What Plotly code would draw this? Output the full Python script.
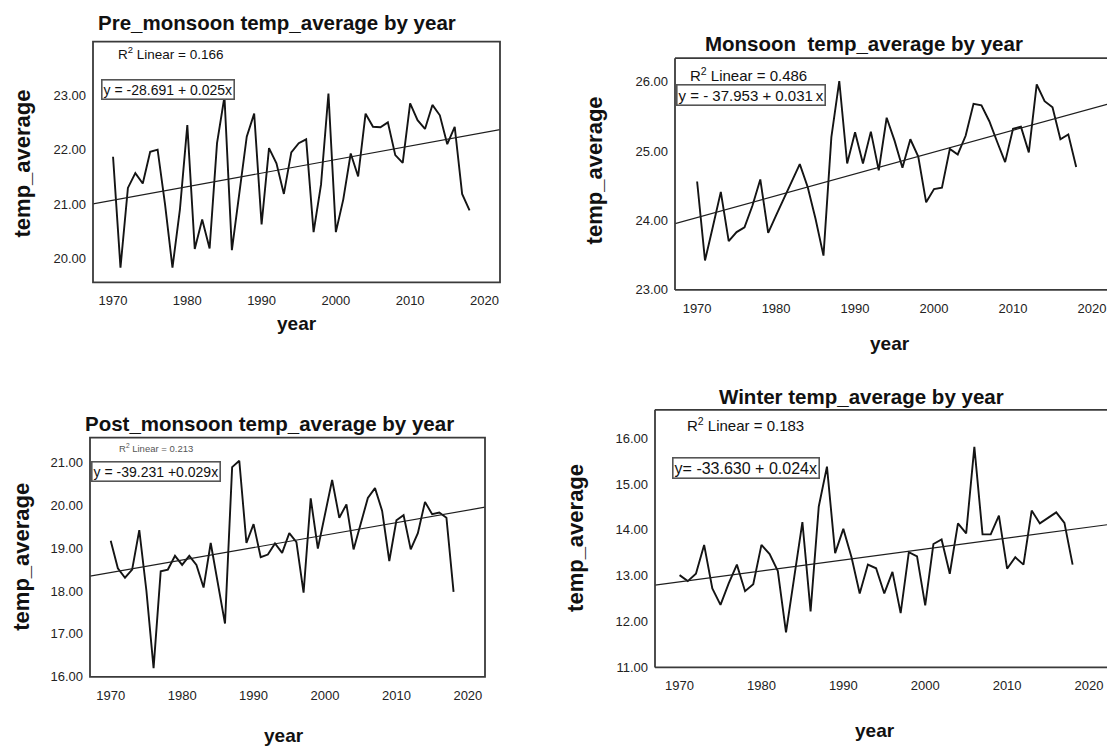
import numpy as np
import plotly.graph_objects as go

W, H = 1107, 749

years = list(range(1970, 2019))

pre_monsoon = [21.87, 19.84, 21.30, 21.57, 21.38, 21.96, 22.00, 21.00, 19.84, 20.90,
               22.45, 20.18, 20.72, 20.19, 22.12, 22.97, 20.16, 21.25, 22.24, 22.66,
               20.63, 22.03, 21.75, 21.19, 21.95, 22.12, 22.19, 20.49, 21.36, 23.03,
               20.49, 21.09, 21.93, 21.51, 22.66, 22.42, 22.41, 22.50, 21.90, 21.76,
               22.85, 22.54, 22.38, 22.82, 22.63, 22.10, 22.42, 21.19, 20.89]

monsoon = [24.56, 23.42, 23.91, 24.41, 23.70, 23.83, 23.90, 24.21, 24.59, 23.82,
           24.07, 24.32, 24.57, 24.81, 24.48, 24.02, 23.49, 25.20, 26.01, 24.82,
           25.27, 24.82, 25.28, 24.72, 25.48, 25.15, 24.76, 25.17, 24.92, 24.26,
           24.45, 24.47, 25.03, 24.95, 25.22, 25.68, 25.66, 25.43, 25.13, 24.84,
           25.32, 25.35, 24.98, 25.96, 25.72, 25.63, 25.17, 25.24, 24.77]

post_monsoon = [19.17, 18.53, 18.31, 18.50, 19.42, 18.00, 16.20, 18.46, 18.50, 18.82,
                18.61, 18.82, 18.61, 18.08, 19.12, 18.18, 17.24, 20.89, 21.04, 19.12,
                19.56, 18.79, 18.85, 19.11, 18.89, 19.35, 19.14, 17.96, 20.16, 18.99,
                19.79, 20.59, 19.71, 20.02, 18.97, 19.56, 20.17, 20.40, 19.87, 18.70,
                19.65, 19.77, 18.97, 19.35, 20.08, 19.79, 19.83, 19.71, 17.98]

winter = [13.01, 12.88, 13.04, 13.67, 12.72, 12.36, 12.83, 13.24, 12.66, 12.81,
          13.67, 13.47, 13.10, 11.76, 12.96, 14.17, 12.22, 14.51, 15.38, 13.49,
          14.02, 13.40, 12.61, 13.24, 13.16, 12.61, 13.08, 12.18, 13.51, 13.42,
          12.35, 13.69, 13.79, 13.04, 14.14, 13.92, 15.81, 13.90, 13.90, 14.31,
          13.15, 13.40, 13.24, 14.42, 14.14, 14.26, 14.38, 14.15, 13.24]

titles = ["Pre_monsoon temp_average by year",
          "Monsoon\u00a0 temp_average by year",
          "Post_monsoon temp_average by year",
          "Winter temp_average by year"]
r2_labels = ["0.166", "0.486", "0.213", "0.183"]
equations = ["y = -28.691 + 0.025x",
             "y = - 37.953 + 0.031\u2009x",
             "y = -39.231 +0.029x",
             "y= -33.630 + 0.024x"]
x_ticks = [1970, 1980, 1990, 2000, 2010, 2020]

FONT = "Liberation Sans, Arial, Helvetica, sans-serif"


def px_x(p):
    return p / W


def px_y(p):
    return 1 - p / H


# panel geometry in pixels: (left, right, top, bottom), x range, y range, y ticks
panels = [
    dict(data=pre_monsoon, box=(93, 500, 42, 285), xr=[1967.3, 2022.1],
         yr=[19.57, 23.98], yt=[20, 21, 22, 23], closed=True),
    dict(data=monsoon, box=(675, 1107, 58.7, 292.7), xr=[1967.2, 2021.9],
         yr=[22.995, 26.34], yt=[23, 24, 25, 26], closed=False),
    dict(data=post_monsoon, box=(90, 485, 441.7, 683.3), xr=[1967.1, 2022.4],
         yr=[15.995, 21.58], yt=[16, 17, 18, 19, 20, 21], closed=True),
    dict(data=winter, box=(655, 1107, 413.7, 673.7), xr=[1967.0, 2022.2],
         yr=[10.995, 16.62], yt=[11, 12, 13, 14, 15, 16], closed=False),
]

fig = go.Figure()
shapes = []
layout_axes = {}

for i, p in enumerate(panels, start=1):
    sx = "" if i == 1 else str(i)
    xa, ya = "x" + sx, "y" + sx
    left, right, top, bottom = p["box"]

    fig.add_trace(go.Scatter(x=years, y=p["data"], mode="lines",
                             line=dict(color="#141414", width=1.9),
                             xaxis=xa, yaxis=ya, showlegend=False,
                             hoverinfo="skip"))

    # least-squares fit line across the whole x range
    slope, intercept = np.polyfit(years, p["data"], 1)
    fx = np.array(p["xr"])
    fig.add_trace(go.Scatter(x=fx, y=intercept + slope * fx, mode="lines",
                             line=dict(color="#1e1e1e", width=1.2),
                             xaxis=xa, yaxis=ya, showlegend=False,
                             hoverinfo="skip"))

    layout_axes["xaxis" + sx] = dict(
        domain=[px_x(left), px_x(right)], range=p["xr"], anchor=ya,
        tickvals=x_ticks, ticks="", showgrid=False, zeroline=False,
        showline=False, ticklabelstandoff=9,
        tickfont=dict(family=FONT, size=13, color="#222"))
    layout_axes["yaxis" + sx] = dict(
        domain=[px_y(bottom), px_y(top)], range=p["yr"], anchor=xa,
        tickvals=p["yt"], tickformat=".2f", ticks="", showgrid=False,
        zeroline=False, showline=False, ticklabelstandoff=6,
        tickfont=dict(family=FONT, size=13, color="#222"))

    xref, yref = xa + " domain", ya + " domain"
    frame = dict(color="#3a3a3a", width=1.8)
    if p["closed"]:
        shapes.append(dict(type="rect", xref=xref, yref=yref, x0=0, x1=1,
                           y0=0, y1=1, line=frame))
    else:
        # right side runs off the page, so only three sides are drawn
        for seg in [(0, 0, 1, 0), (0, 1, 1, 1), (0, 0, 0, 1)]:
            shapes.append(dict(type="line", xref=xref, yref=yref,
                               x0=seg[0], y0=seg[1], x1=seg[2], y1=seg[3],
                               line=frame))

annotations = []


def text(x, y, s, size, bold=False, angle=0, xanchor="center",
         color="#111", **kw):
    annotations.append(dict(
        x=px_x(x), y=px_y(y), xref="paper", yref="paper",
        text=f"<b>{s}</b>" if bold else s, showarrow=False,
        xanchor=xanchor, yanchor="middle", textangle=angle,
        font=dict(family=FONT, size=size, color=color), **kw))


# chart titles
for (cx, cy), t in zip([(277, 23), (864, 44), (269, 427), (861, 400)], titles):
    text(cx, cy, t, 20.5, bold=True)

# axis titles
for cx, cy in [(22, 165), (594, 172), (22, 562), (576, 543)]:
    text(cx, cy, "temp_average", 22, bold=True, angle=-90)
for cx, cy in [(297, 327), (890, 347), (284, 742), (875, 737)]:
    text(cx, cy, "year", 19, bold=True)

# R squared notes
r2_pos = [(116, 53, 13.5, "#111"), (688, 75, 15, "#111"),
          (117, 452, 9.5, "#555"), (685, 429, 15, "#111")]
for (x, y, s, c), r2 in zip(r2_pos, r2_labels):
    text(x, y, f"R<sup>2</sup> Linear = {r2}", s, xanchor="left", color=c)

# fit equation boxes
eq_pos = [(101, 90.5, 14), (676, 96, 15), (91, 476, 14), (672, 472, 16)]
for (x, y, s), eq in zip(eq_pos, equations):
    text(x, y, eq, s, xanchor="left", bordercolor="#555", borderwidth=1.6,
         borderpad=1, bgcolor="white")

fig.update_layout(
    width=W, height=H, margin=dict(l=0, r=0, t=0, b=0),
    paper_bgcolor="white", plot_bgcolor="white",
    shapes=shapes, annotations=annotations, showlegend=False,
    **layout_axes)

fig.write_html("out.html", config={"displayModeBar": False})
